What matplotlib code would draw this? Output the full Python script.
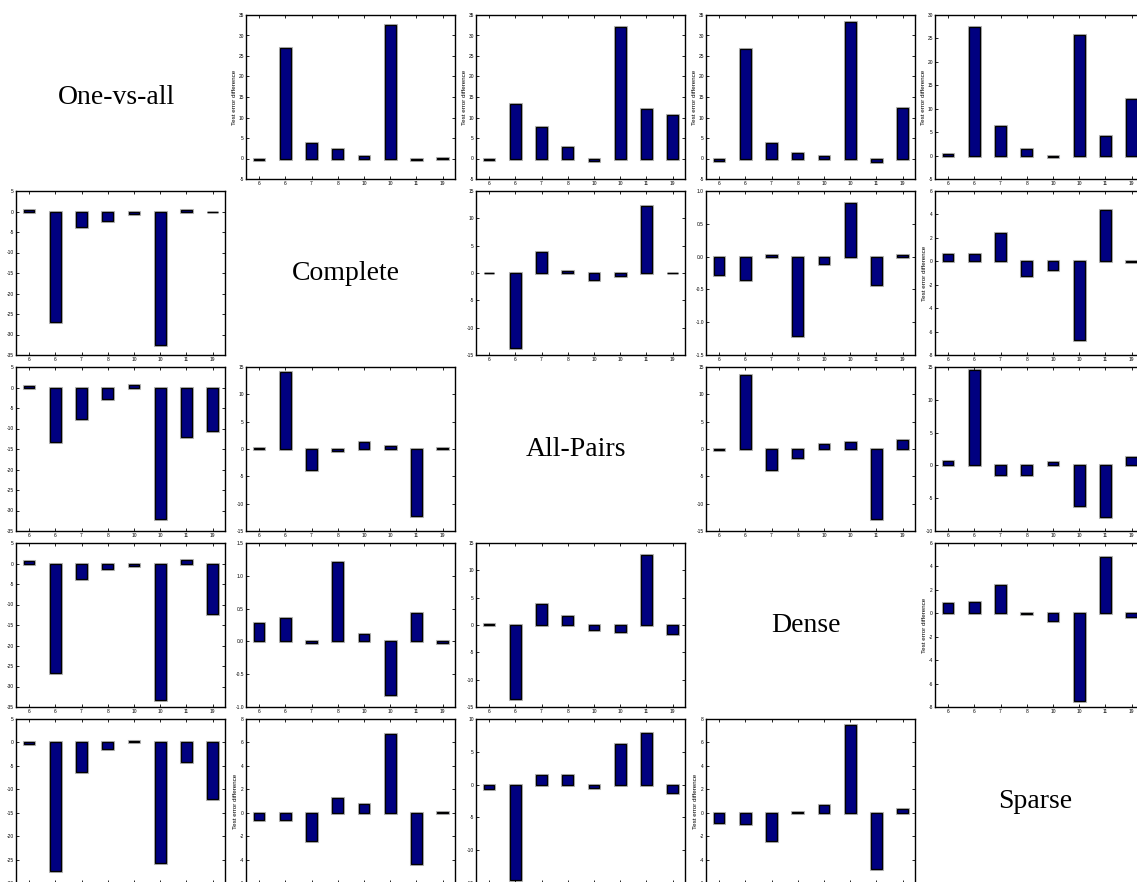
import matplotlib
matplotlib.use("Agg")
import matplotlib.pyplot as plt
import matplotlib.patheffects as pe
import numpy as np

plt.rcParams['axes.unicode_minus'] = False
plt.rcParams['font.family'] = ['Liberation Sans', 'DejaVu Sans']

# diagonal names and shared x tick labels
method_names = ["One-vs-all", "Complete", "All-Pairs", "Dense", "Sparse"]
tick_labels = ["6", "6", "7", "8", "10", "10", "11", "19"]

# row 0: One-vs-all
ova_vs_complete = [-0.3, 27.0, 3.9, 2.4, 0.6, 32.5, -0.3, 0.1]
ova_vs_allpairs = [-0.3, 13.2, 7.7, 2.8, -0.6, 32.0, 12.0, 10.7]
ova_vs_dense = [-0.5, 26.7, 3.9, 1.3, 0.5, 33.2, -0.9, 12.3]
ova_vs_sparse = [0.3, 27.5, 6.3, 1.3, -0.2, 25.8, 4.1, 12.0]

# row 1: Complete
complete_vs_ova = [0.3, -27.0, -3.9, -2.4, -0.6, -32.5, 0.3, -0.1]
complete_vs_allpairs = [0.05, -13.8, 3.9, 0.3, -1.2, -0.5, 12.3, 0.0]
complete_vs_dense = [-0.28, -0.35, 0.02, -1.21, -0.12, 0.82, -0.43, 0.02]
complete_vs_sparse = [0.6, 0.65, 2.4, -1.25, -0.75, -6.7, 4.35, -0.1]

# row 2: All-Pairs
allpairs_vs_ova = [0.3, -13.2, -7.7, -2.8, 0.6, -32.0, -12.0, -10.7]
allpairs_vs_complete = [0.1, 14.0, -3.8, -0.3, 1.2, 0.5, -12.3, 0.1]
allpairs_vs_dense = [-0.2, 13.5, -3.8, -1.6, 1.0, 1.2, -12.8, 1.6]
allpairs_vs_sparse = [0.6, 14.5, -1.4, -1.5, 0.5, -6.2, -7.9, 1.3]

# row 3: Dense
dense_vs_ova = [0.5, -26.7, -3.9, -1.3, -0.5, -33.2, 0.9, -12.3]
dense_vs_complete = [0.28, 0.35, -0.02, 1.21, 0.12, -0.82, 0.43, -0.02]
dense_vs_allpairs = [0.2, -13.5, 3.8, 1.6, -1.0, -1.2, 12.8, -1.6]
dense_vs_sparse = [0.85, 0.95, 2.4, -0.05, -0.65, -7.5, 4.8, -0.3]

# row 4: Sparse
sparse_vs_ova = [-0.3, -27.5, -6.3, -1.3, 0.2, -25.8, -4.1, -12.0]
sparse_vs_complete = [-0.6, -0.65, -2.4, 1.25, 0.75, 6.7, -4.35, 0.1]
sparse_vs_allpairs = [-0.6, -14.5, 1.4, 1.5, -0.5, 6.2, 7.9, -1.3]
sparse_vs_dense = [-0.85, -0.95, -2.4, 0.05, 0.65, 7.5, -4.8, 0.3]

grid = [
    [None, ova_vs_complete, ova_vs_allpairs, ova_vs_dense, ova_vs_sparse],
    [complete_vs_ova, None, complete_vs_allpairs, complete_vs_dense, complete_vs_sparse],
    [allpairs_vs_ova, allpairs_vs_complete, None, allpairs_vs_dense, allpairs_vs_sparse],
    [dense_vs_ova, dense_vs_complete, dense_vs_allpairs, None, dense_vs_sparse],
    [sparse_vs_ova, sparse_vs_complete, sparse_vs_allpairs, sparse_vs_dense, None],
]

# y axis (min, max, step) as matlab picked them
ylims = {
    (0, 1): (-5, 35, 5), (0, 2): (-5, 35, 5), (0, 3): (-5, 35, 5), (0, 4): (-5, 30, 5),
    (1, 0): (-35, 5, 5), (1, 2): (-15, 15, 5), (1, 3): (-1.5, 1, 0.5), (1, 4): (-8, 6, 2),
    (2, 0): (-35, 5, 5), (2, 1): (-15, 15, 5), (2, 3): (-15, 15, 5), (2, 4): (-10, 15, 5),
    (3, 0): (-35, 5, 5), (3, 1): (-1, 1.5, 0.5), (3, 2): (-15, 15, 5), (3, 4): (-8, 6, 2),
    (4, 0): (-30, 5, 5), (4, 1): (-6, 8, 2), (4, 2): (-15, 10, 5), (4, 3): (-6, 8, 2),
}
with_ylabel = [(0, 1), (0, 2), (0, 3), (0, 4), (1, 4), (3, 4), (4, 1), (4, 3)]

W, H = 1137, 882
col_left = [16, 246, 476, 706, 935]
row_top = [15, 191, 367, 543, 719]
ax_w, ax_h = 209, 164

fig = plt.figure(figsize=(W / 100, H / 100), dpi=100)

x = np.arange(1, 9)
halo = [pe.Stroke(linewidth=2.2, foreground='0.72'), pe.Normal()]

for r in range(5):
    for c in range(5):
        rect = [col_left[c] / W, 1 - (row_top[r] + ax_h) / H, ax_w / W, ax_h / H]
        ax = fig.add_axes(rect)
        if r == c:
            ax.axis('off')
            ax.text(0.48, 0.5, method_names[r], transform=ax.transAxes,
                    ha='center', va='center', fontsize=20,
                    family=['Liberation Serif', 'DejaVu Serif'])
            continue
        vals = grid[r][c]
        bars = ax.bar(x, vals, width=0.41, color='#000080', edgecolor='black',
                      linewidth=0.9)
        for b in bars:
            b.set_path_effects(halo)
        lo, hi, step = ylims[(r, c)]
        ax.set_ylim(lo, hi)
        ax.set_yticks(np.arange(lo, hi + step / 2, step))
        ax.set_xlim(0.5, 8.47)
        ax.set_xticks(x)
        ax.set_xticklabels(tick_labels)
        ax.tick_params(direction='in', length=2, width=0.6, top=True, right=True,
                       labelsize=3.5, pad=1.5)
        for s in ax.spines.values():
            s.set_linewidth(1.0)
        if (r, c) in with_ylabel:
            ax.set_ylabel("Test error difference", fontsize=4.5, labelpad=1)

fig.savefig("out.png", dpi=100)
